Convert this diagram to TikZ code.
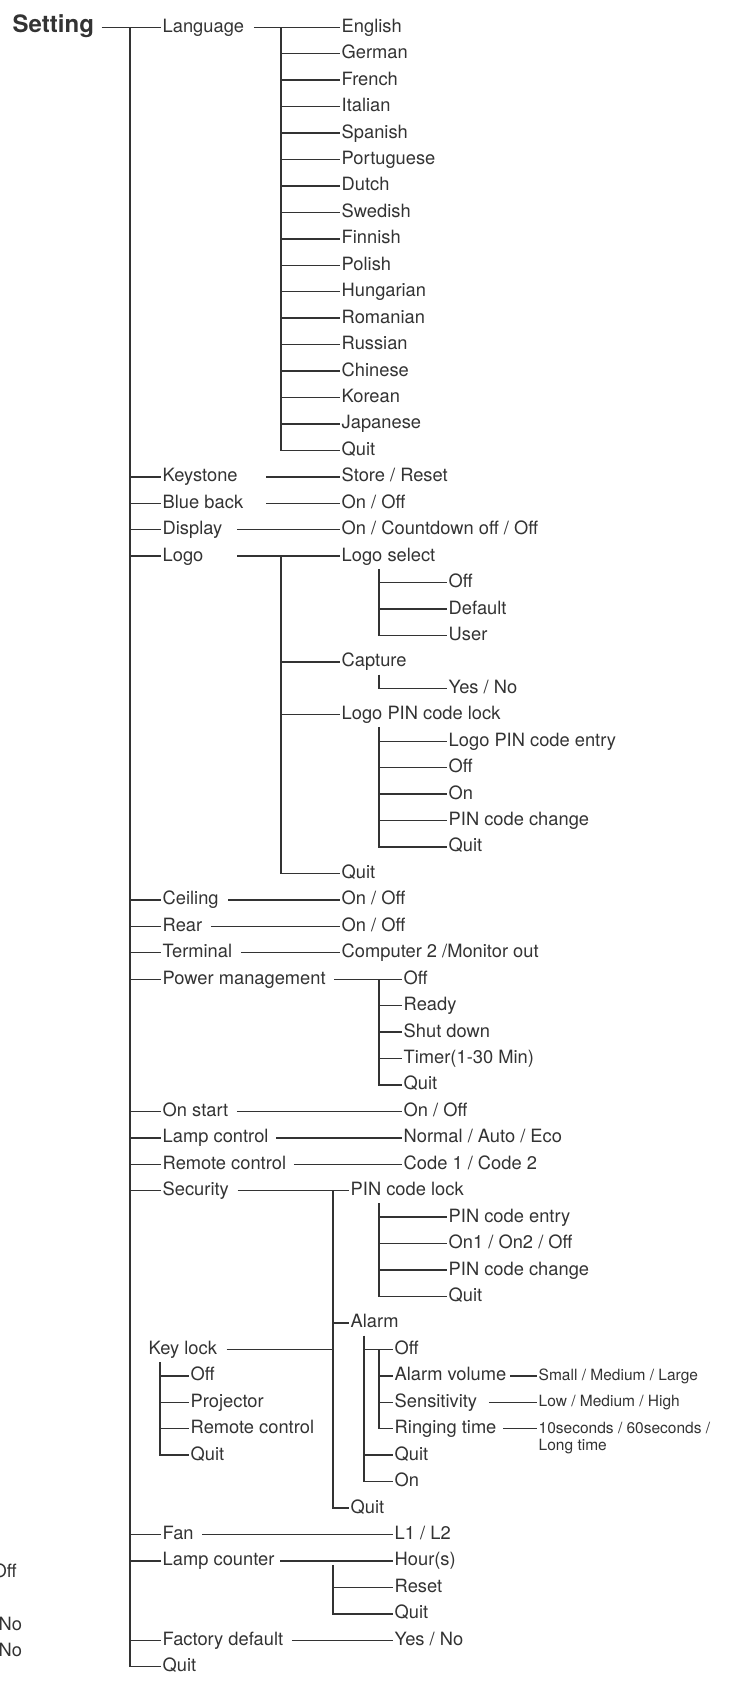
\documentclass[tikz,border=0pt]{standalone}
\usepackage{fontspec}
\setmainfont{TeX Gyre Heros}
\usetikzlibrary{calc}
\definecolor{menuInk}{RGB}{51,51,51}

\begin{document}
\begin{tikzpicture}[x=1pt, y=-26.44pt,
    menuitem/.style={anchor=west, inner xsep=1.5pt, inner ysep=4.5pt, text height=13pt, text depth=3pt,
    font=\fontsize{18.3}{20}\selectfont, text=menuInk},
    menutitle/.style={menuitem, font=\fontsize{24}{26}\selectfont\bfseries},
    menunote/.style={anchor=base west, yshift=-4.3pt, inner sep=1.5pt,
    font=\fontsize{15.5}{17.7}\selectfont, text=menuInk},
    branch/.style={draw=menuInk, line width=1.4pt}
  ]
  \path[use as bounding box, fill=white] (0,-1.0325) rectangle (738,62.92);

  \coordinate (trunk) at (130,0);
  \coordinate (langbar) at (281,0);
  \coordinate (subbar) at (379,0);
  \coordinate (secbar) at (333,0);
  \coordinate (alarmbar) at (364,0);
  \coordinate (keybar) at (160,0);
  \coordinate (keystart) at (266,0);
  \coordinate (dispstart) at (237,0);

  \node[menutitle] (setting) at (11,0) {Setting};

  \node[menuitem] (language) at (161,0) {Language};
  \node[menuitem] (english) at (340,0) {English};
  \node[menuitem] (german) at (340,1) {German};
  \node[menuitem] (french) at (340,2) {French};
  \node[menuitem] (italian) at (340,3) {Italian};
  \node[menuitem] (spanish) at (340,4) {Spanish};
  \node[menuitem] (portuguese) at (340,5) {Portuguese};
  \node[menuitem] (dutch) at (340,6) {Dutch};
  \node[menuitem] (swedish) at (340,7) {Swedish};
  \node[menuitem] (finnish) at (340,8) {Finnish};
  \node[menuitem] (polish) at (340,9) {Polish};
  \node[menuitem] (hungarian) at (340,10) {Hungarian};
  \node[menuitem] (romanian) at (340,11) {Romanian};
  \node[menuitem] (russian) at (340,12) {Russian};
  \node[menuitem] (chinese) at (340,13) {Chinese};
  \node[menuitem] (korean) at (340,14) {Korean};
  \node[menuitem] (japanese) at (340,15) {Japanese};
  \node[menuitem] (langquit) at (340,16) {Quit};

  \node[menuitem] (keystone) at (161,17) {Keystone};
  \node[menuitem] (storereset) at (340,17) {Store / Reset};
  \node[menuitem] (blueback) at (161,18) {Blue back};
  \node[menuitem] (bluevalue) at (340,18) {On / Off};
  \node[menuitem] (display) at (161,19) {Display};
  \node[menuitem] (dispvalue) at (340,19) {On / Countdown off / Off};

  \node[menuitem] (logo) at (161,20) {Logo};
  \node[menuitem] (logoselect) at (340,20) {Logo select};
  \node[menuitem] (logooff) at (447,21) {Off};
  \node[menuitem] (logodefault) at (447,22) {Default};
  \node[menuitem] (logouser) at (447,23) {User};
  \node[menuitem] (capture) at (340,24) {Capture};
  \node[menuitem] (captureyes) at (447,25) {Yes / No};
  \node[menuitem] (logopin) at (340,26) {Logo PIN code lock};
  \node[menuitem] (logopinentry) at (447,27) {Logo PIN code entry};
  \node[menuitem] (logopinoff) at (447,28) {Off};
  \node[menuitem] (logopinon) at (447,29) {On};
  \node[menuitem] (logopinchange) at (447,30) {PIN code change};
  \node[menuitem] (logopinquit) at (447,31) {Quit};
  \node[menuitem] (logoquit) at (340,32) {Quit};

  \node[menuitem] (ceiling) at (161,33) {Ceiling};
  \node[menuitem] (ceilingvalue) at (340,33) {On / Off};
  \node[menuitem] (rear) at (161,34) {Rear};
  \node[menuitem] (rearvalue) at (340,34) {On / Off};
  \node[menuitem] (terminal) at (161,35) {Terminal};
  \node[menuitem] (terminalvalue) at (340,35) {Computer 2 /Monitor out};

  \node[menuitem] (power) at (161,36) {Power management};
  \node[menuitem] (poweroff) at (402,36) {Off};
  \node[menuitem] (powerready) at (402,37) {Ready};
  \node[menuitem] (powershut) at (402,38) {Shut down};
  \node[menuitem] (powertimer) at (402,39) {Timer(1-30 Min)};
  \node[menuitem] (powerquit) at (402,40) {Quit};

  \node[menuitem] (onstart) at (161,41) {On start};
  \node[menuitem] (onstartvalue) at (402,41) {On / Off};
  \node[menuitem] (lampcontrol) at (161,42) {Lamp control};
  \node[menuitem] (lampvalue) at (402,42) {Normal / Auto / Eco};
  \node[menuitem] (remote) at (161,43) {Remote control};
  \node[menuitem] (remotevalue) at (402,43) {Code 1 / Code 2};

  \node[menuitem] (security) at (161,44) {Security};
  \node[menuitem] (pinlock) at (349,44) {PIN code lock};
  \node[menuitem] (pinentry) at (447,45) {PIN code entry};
  \node[menuitem] (pinmode) at (447,46) {On1 / On2 / Off};
  \node[menuitem] (pinchange) at (447,47) {PIN code change};
  \node[menuitem] (pinquit) at (447,48) {Quit};
  \node[menuitem] (alarm) at (349,49) {Alarm};
  \node[menuitem] (alarmoff) at (393,50) {Off};
  \node[menuitem] (alarmvolume) at (393,51) {Alarm volume};
  \node[menunote] (volumevalue) at (537,51) {Small / Medium / Large};
  \node[menuitem] (sensitivity) at (393,52) {Sensitivity};
  \node[menunote] (sensvalue) at (537,52) {Low / Medium / High};
  \node[menuitem] (ringing) at (393,53) {Ringing time};
  \node[menunote] (ringvalue) at (537,53) {\vtop{\hbox{10seconds / 60seconds /}\hbox{Long time}}};
  \node[menuitem] (alarmquit) at (393,54) {Quit};
  \node[menuitem] (alarmon) at (393,55) {On};
  \node[menuitem] (secquit) at (349,56) {Quit};
  \node[menuitem] (keylock) at (147,50) {Key lock};
  \node[menuitem] (keyoff) at (189,51) {Off};
  \node[menuitem] (keyprojector) at (189,52) {Projector};
  \node[menuitem] (keyremote) at (189,53) {Remote control};
  \node[menuitem] (keyquit) at (189,54) {Quit};

  \node[menuitem] (fan) at (161,57) {Fan};
  \node[menuitem] (fanvalue) at (393,57) {L1 / L2};
  \node[menuitem] (lampcounter) at (161,58) {Lamp counter};
  \node[menuitem] (hours) at (393,58) {Hour(s)};
  \node[menuitem] (lampreset) at (393,59) {Reset};
  \node[menuitem] (lampquit) at (393,60) {Quit};
  \node[menuitem] (factory) at (161,61) {Factory default};
  \node[menuitem] (factoryvalue) at (393,61) {Yes / No};
  \node[menuitem] (quit) at (161,62) {Quit};

  \node[menuitem] (edgeoff) at (-9,58.43) {Off};
  \node[menuitem] (edgeno) at (-3,60.45) {No};
  \node[menuitem] (edgenotwo) at (-3,61.44) {No};

  \draw[branch] ([xshift=6pt]setting.east) -- (language.west);
  \draw[branch] (trunk |- language.west) |- (quit.west);
  \draw[branch] (trunk |- keystone.west) -- (keystone.west) (trunk |- blueback.west) -- (blueback.west)
    (trunk |- display.west) -- (display.west) (trunk |- logo.west) -- (logo.west)
    (trunk |- ceiling.west) -- (ceiling.west) (trunk |- rear.west) -- (rear.west)
    (trunk |- terminal.west) -- (terminal.west) (trunk |- power.west) -- (power.west)
    (trunk |- onstart.west) -- (onstart.west) (trunk |- lampcontrol.west) -- (lampcontrol.west)
    (trunk |- remote.west) -- (remote.west) (trunk |- security.west) -- (security.west)
    (trunk |- fan.west) -- (fan.west) (trunk |- lampcounter.west) -- (lampcounter.west)
    (trunk |- factory.west) -- (factory.west);

  \draw[branch] ([xshift=8pt]language.east) -- (english.west);
  \draw[branch] (langbar |- english.west) |- (langquit.west);
  \draw[branch] (langbar |- german.west) -- (german.west) (langbar |- french.west) -- (french.west)
    (langbar |- italian.west) -- (italian.west) (langbar |- spanish.west) -- (spanish.west)
    (langbar |- portuguese.west) -- (portuguese.west) (langbar |- dutch.west) -- (dutch.west)
    (langbar |- swedish.west) -- (swedish.west) (langbar |- finnish.west) -- (finnish.west)
    (langbar |- polish.west) -- (polish.west) (langbar |- hungarian.west) -- (hungarian.west)
    (langbar |- romanian.west) -- (romanian.west) (langbar |- russian.west) -- (russian.west)
    (langbar |- chinese.west) -- (chinese.west) (langbar |- korean.west) -- (korean.west)
    (langbar |- japanese.west) -- (japanese.west);

  \draw[branch] (keystart |- keystone.west) -- (storereset.west) (keystart |- blueback.west) -- (bluevalue.west);
  \draw[branch] (dispstart |- display.west) -- (dispvalue.west) (dispstart |- logo.west) -- (logoselect.west);
  \draw[branch] (langbar |- logoselect.west) |- (logoquit.west);
  \draw[branch] (langbar |- capture.west) -- (capture.west) (langbar |- logopin.west) -- (logopin.west);
  \draw[branch] (subbar |- logoselect.south) |- (logouser.west);
  \draw[branch] (subbar |- logooff.west) -- (logooff.west) (subbar |- logodefault.west) -- (logodefault.west);
  \draw[branch] (subbar |- capture.south) |- (captureyes.west);
  \draw[branch] (subbar |- logopin.south) |- (logopinquit.west);
  \draw[branch] (subbar |- logopinentry.west) -- (logopinentry.west) (subbar |- logopinoff.west) -- (logopinoff.west)
    (subbar |- logopinon.west) -- (logopinon.west) (subbar |- logopinchange.west) -- (logopinchange.west);

  \draw[branch] ([xshift=8pt]ceiling.east) -- (ceilingvalue.west);
  \draw[branch] ([xshift=7pt]rear.east) -- (rearvalue.west);
  \draw[branch] ([xshift=7pt]terminal.east) -- (terminalvalue.west);
  \draw[branch] ([xshift=7pt]power.east) -- (poweroff.west);
  \draw[branch] (subbar |- poweroff.west) |- (powerquit.west);
  \draw[branch] (subbar |- powerready.west) -- (powerready.west) (subbar |- powershut.west) -- (powershut.west)
    (subbar |- powertimer.west) -- (powertimer.west);
  \draw[branch] ([xshift=7pt]onstart.east) -- (onstartvalue.west);
  \draw[branch] ([xshift=6pt]lampcontrol.east) -- (lampvalue.west);
  \draw[branch] ([xshift=6pt]remote.east) -- (remotevalue.west);

  \draw[branch] ([xshift=7pt]security.east) -- (pinlock.west);
  \draw[branch] (secbar |- pinlock.west) |- (secquit.west);
  \draw[branch] (secbar |- alarm.west) -- (alarm.west);
  \draw[branch] ([xshift=8pt]keylock.east) -- (secbar |- keylock.west);
  \draw[branch] (subbar |- pinlock.south) |- (pinquit.west);
  \draw[branch] (subbar |- pinentry.west) -- (pinentry.west) (subbar |- pinmode.west) -- (pinmode.west)
    (subbar |- pinchange.west) -- (pinchange.west);
  \draw[branch] (alarmbar |- alarm.south) |- (alarmon.west);
  \draw[branch] (alarmbar |- alarmoff.west) -- (alarmoff.west) (alarmbar |- alarmquit.west) -- (alarmquit.west);
  \draw[branch] (subbar |- alarmoff.west) |- (ringing.west);
  \draw[branch] (subbar |- alarmvolume.west) -- (alarmvolume.west) (subbar |- sensitivity.west) -- (sensitivity.west);
  \draw[branch] ([xshift=2pt]alarmvolume.east) -- (volumevalue.west |- alarmvolume.west);
  \draw[branch] ([xshift=10pt]sensitivity.east) -- (sensvalue.west |- sensitivity.west);
  \draw[branch] ([xshift=5pt]ringing.east) -- (ringvalue.west |- ringing.west);
  \draw[branch] (keybar |- keylock.south) |- (keyquit.west);
  \draw[branch] (keybar |- keyoff.west) -- (keyoff.west) (keybar |- keyprojector.west) -- (keyprojector.west)
    (keybar |- keyremote.west) -- (keyremote.west);

  \draw[branch] ([xshift=7pt]fan.east) -- (fanvalue.west);
  \draw[branch] ([xshift=4pt]lampcounter.east) -- (hours.west);
  \draw[branch] ($(secbar |- hours.west)+(0,-4pt)$) |- (lampquit.west);
  \draw[branch] (secbar |- lampreset.west) -- (lampreset.west);
  \draw[branch] ([xshift=7pt]factory.east) -- (factoryvalue.west);
\end{tikzpicture}
\end{document}
